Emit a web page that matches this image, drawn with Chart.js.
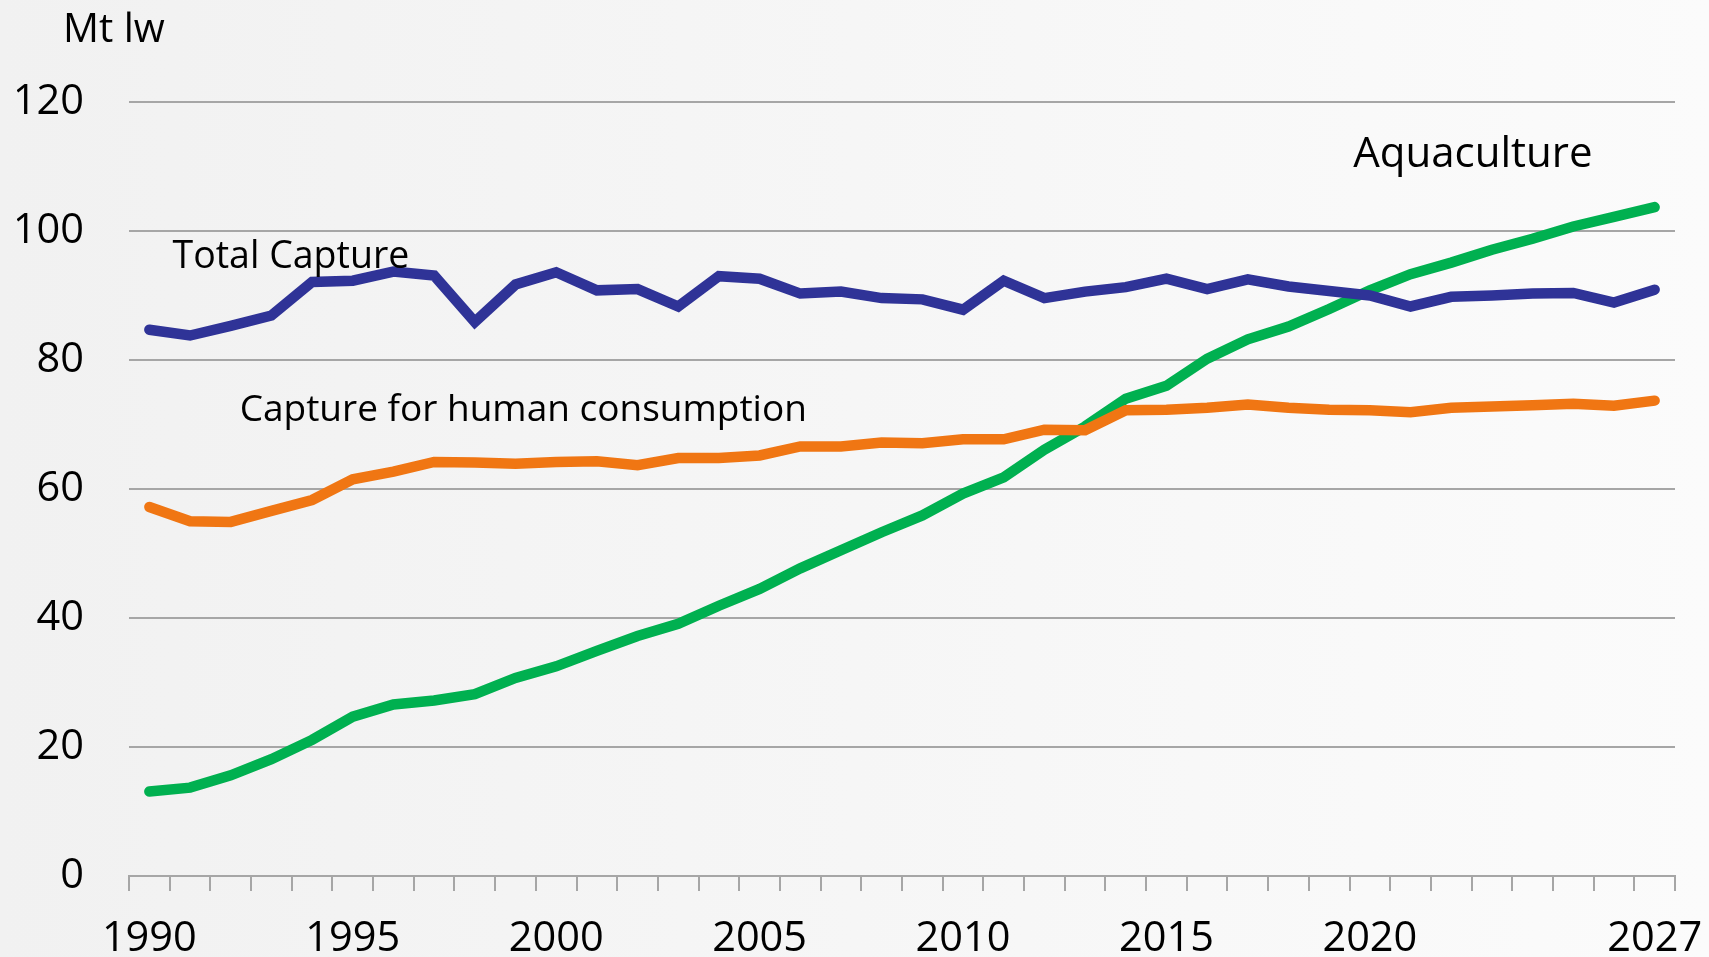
<!DOCTYPE html>
<html>
<head>
<meta charset="utf-8">
<script src="https://cdn.jsdelivr.net/npm/chart.js@4.4.1/dist/chart.umd.min.js"></script>
<style>
  html, body { margin: 0; padding: 0; }
  body { width: 1709px; height: 957px; background: linear-gradient(to right, #f1f1f1, #fbfbfb); overflow: hidden; }
  #wrap { position: relative; width: 1709px; height: 957px; }
  canvas { display: block; }
</style>
</head>
<body>
<div id="wrap"><canvas id="c" width="1709" height="957"></canvas></div>
<script>
// ---- Data (Mt live weight) ----
const years = [1990,1991,1992,1993,1994,1995,1996,1997,1998,1999,
               2000,2001,2002,2003,2004,2005,2006,2007,2008,2009,
               2010,2011,2012,2013,2014,2015,2016,2017,2018,2019,
               2020,2021,2022,2023,2024,2025,2026,2027];

const shownYears = [1990, 1995, 2000, 2005, 2010, 2015, 2020, 2027];

const totalCapture = [84.7,83.8,85.3,86.9,92.1,92.3,93.7,93.1,85.9,91.7,
                      93.6,90.8,91.0,88.3,93.0,92.6,90.3,90.6,89.6,89.4,
                      87.8,92.3,89.6,90.6,91.3,92.6,91.0,92.5,91.4,90.7,
                      90.0,88.3,89.8,90.0,90.3,90.4,88.9,90.9];

const captureHuman = [57.2,55.0,54.9,56.6,58.3,61.5,62.7,64.2,64.1,63.9,
                      64.2,64.3,63.7,64.8,64.8,65.2,66.6,66.6,67.2,67.1,
                      67.7,67.7,69.2,69.1,72.2,72.3,72.6,73.1,72.6,72.3,
                      72.2,71.9,72.6,72.8,73.0,73.2,72.9,73.7];

const aquaculture = [13.1,13.7,15.6,18.1,21.1,24.7,26.6,27.2,28.2,30.7,
                     32.5,34.9,37.2,39.1,41.9,44.5,47.7,50.5,53.3,55.9,
                     59.3,61.8,66.1,69.7,74.0,76.0,80.2,83.2,85.2,87.9,
                     90.8,93.3,95.1,97.1,98.8,100.7,102.2,103.7];

const seriesNames = ['Total Capture', 'Capture for human consumption', 'Aquaculture'];
const unitLabel = 'Mt lw';

// ---- Annotation placement (category index, value at text baseline) ----
const annotations = [
  { text: seriesNames[0], idx: 0.57,  val: 94.3,  size: 37.5 },
  { text: seriesNames[1], idx: 2.22,  val: 70.5,  size: 37 },
  { text: seriesNames[2], idx: 29.59, val: 109.9, size: 42 }
];

const FONT = "'Open Sans', 'Liberation Sans', sans-serif";
const GRID = '#a6a6a6';

const textPlugin = {
  id: 'seriesText',
  afterDatasetsDraw(chart) {
    const { ctx, scales: { x, y } } = chart;
    ctx.save();
    ctx.fillStyle = '#000';
    ctx.textAlign = 'left';
    ctx.textBaseline = 'alphabetic';
    annotations.forEach(a => {
      ctx.font = a.size + 'px ' + FONT;
      ctx.fillText(a.text, x.getPixelForValue(a.idx), y.getPixelForValue(a.val));
    });
    // unit label above the value axis
    ctx.font = '40px ' + FONT;
    ctx.fillText(unitLabel, 63, 42);
    ctx.restore();
  }
};

const ds = (label, data, color) => ({
  label, data,
  borderColor: color,
  backgroundColor: color,
  borderWidth: 10.5,
  pointRadius: 0,
  pointHoverRadius: 0,
  tension: 0,
  fill: false,
  borderCapStyle: 'round',
  borderJoinStyle: 'miter'
});

new Chart(document.getElementById('c'), {
  type: 'line',
  data: {
    labels: years,
    datasets: [
      ds(seriesNames[0], totalCapture, '#2f3397'),
      ds(seriesNames[1], captureHuman, '#f07613'),
      ds(seriesNames[2], aquaculture, '#00b050')
    ]
  },
  plugins: [textPlugin],
  options: {
    responsive: false,
    animation: false,
    events: [],
    layout: { padding: { left: 17, right: 34, top: 102, bottom: 0 } },
    plugins: { legend: { display: false }, tooltip: { enabled: false }, title: { display: false } },
    scales: {
      x: {
        type: 'category',
        offset: true,
        grid: { offset: true, drawOnChartArea: false, drawTicks: true, tickLength: 15, color: GRID, lineWidth: 2 },
        border: { display: true, color: GRID, width: 2 },
        ticks: {
          autoSkip: false, maxRotation: 0, minRotation: 0, padding: 27, color: '#000',
          font: { family: FONT, size: 41.5, lineHeight: 1 },
          callback: (v, i) => shownYears.includes(years[i]) ? String(years[i]) : ''
        },
        afterFit(scale) { scale.height = 81; scale.paddingLeft = 0; scale.paddingRight = 0; }
      },
      y: {
        min: 0, max: 120,
        grid: { color: GRID, lineWidth: 2, drawTicks: false },
        border: { display: false },
        ticks: { stepSize: 20, padding: 45, color: '#000', font: { family: FONT, size: 41.5 } },
        afterFit(scale) { scale.width = 112; scale.paddingTop = 0; scale.paddingBottom = 0; }
      }
    }
  }
});
</script>
</body>
</html>
